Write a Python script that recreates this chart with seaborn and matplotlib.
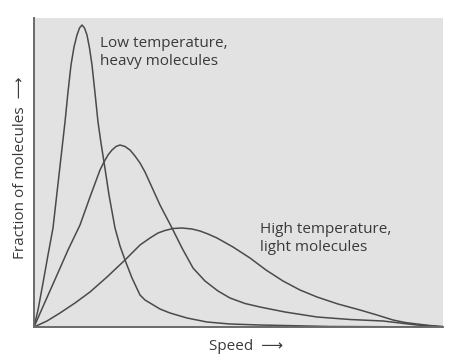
import matplotlib
matplotlib.use("Agg")
import matplotlib.pyplot as plt
import seaborn as sns
import pandas as pd

# Speed (arbitrary units, 0-409) and fraction of molecules (arbitrary units, 0-309)
low_x = [0, 4, 9, 14, 19, 25, 31, 34, 37, 40, 43, 45.5, 48, 50.5, 53, 55.5, 58, 61, 64, 67,
         70, 75, 81, 86, 91, 98, 106, 111, 116, 126, 136, 153, 173, 196, 226, 296, 409]
low_y = [0, 17, 44, 72, 99, 152, 205, 235, 262, 280, 292, 299, 302, 299, 292, 279, 262, 234,
         205, 184, 165, 132, 99, 81, 67, 49, 32, 27, 24, 18, 14, 9, 5, 3, 2, 0.5, 0]

mid_x = [0, 11, 23, 34, 46, 56, 66, 70, 74, 78, 82, 86, 91, 96, 101, 106, 111, 116, 126, 138,
         148, 159, 171, 184, 196, 211, 226, 251, 283, 316, 349, 383, 409]
mid_y = [0, 25, 52, 77, 102, 130, 157, 165, 172, 177, 180.5, 182, 180.5, 177, 171, 164, 155,
         144, 122, 99, 79, 59, 46, 36, 29, 23.5, 20, 15, 10, 7.5, 6, 2, 0]

high_x = [0, 13, 26, 41, 56, 73, 91, 99, 106, 116, 124, 131, 139, 148, 158, 166, 174, 183,
          199, 216, 232, 249, 266, 283, 304, 326, 343, 359, 371, 383, 396, 409]
high_y = [0, 6, 14, 24, 35, 50, 67, 75, 82, 89, 94, 96.5, 98.5, 99, 98, 96, 93, 89, 80, 69,
          57, 46, 37, 30, 23, 17, 12, 7, 4.5, 3, 1.5, 0.5]

labels = ["Low temperature,\nheavy molecules", "High temperature,\nlight molecules"]
x_label = "Speed  \u27f6"
y_label = "Fraction of molecules  \u27f6"

df = pd.concat([
    pd.DataFrame({"speed": low_x, "fraction": low_y, "curve": "low"}),
    pd.DataFrame({"speed": mid_x, "fraction": mid_y, "curve": "mid"}),
    pd.DataFrame({"speed": high_x, "fraction": high_y, "curve": "high"}),
])

sns.set_theme(style="white")
plt.rcParams["font.family"] = ["Open Sans", "DejaVu Sans"]

fig = plt.figure(figsize=(4.56, 3.62), dpi=100)
ax = fig.add_axes([34 / 456, 35 / 362, 409 / 456, 309 / 362])
ax.set_facecolor("#e2e2e2")

line_color = "#4a4a4a"
sns.lineplot(data=df, x="speed", y="fraction", hue="curve", sort=False,
             palette={"low": line_color, "mid": line_color, "high": line_color},
             linewidth=1.1, legend=False, estimator=None, ax=ax)

ax.set_xlim(0, 409)
ax.set_ylim(0, 309)
ax.set_xticks([])
ax.set_yticks([])
for s in ["top", "right"]:
    ax.spines[s].set_visible(False)
for s in ["left", "bottom"]:
    ax.spines[s].set_color("#6a6a6a")
    ax.spines[s].set_linewidth(1.4)

ax.set_xlabel("")
ax.set_ylabel("")

txt_color = "#3a3a3a"
ax.text(66, 291, labels[0], fontsize=11, color=txt_color, va="top", ha="left",
        linespacing=1.25)
ax.text(226, 105, labels[1], fontsize=11, color=txt_color, va="top", ha="left",
        linespacing=1.25)

fig.text(246 / 456, 1 - 347 / 362, x_label, fontsize=11, color=txt_color,
         ha="center", va="center")
fig.text(21 / 456, 1 - 168 / 362, y_label, fontsize=11, color=txt_color,
         ha="center", va="center", rotation=90)

fig.savefig("out.png", dpi=100, facecolor="white")
